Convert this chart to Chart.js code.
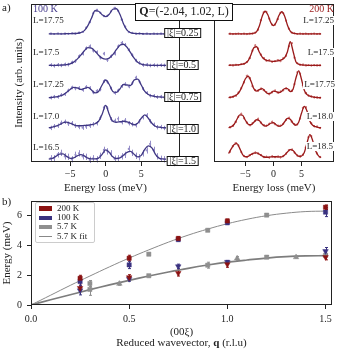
<!DOCTYPE html>
<html>
<head>
<meta charset="utf-8">
<script src="https://cdn.jsdelivr.net/npm/chart.js@4.4.0/dist/chart.umd.min.js"></script>
<style>
  html, body { margin: 0; padding: 0; background: #fff; }
  #wrap { position: relative; width: 338px; height: 350px; overflow: hidden; font-family: 'Liberation Serif', serif; color: #222; }
  canvas { position: absolute; }
  .t { position: absolute; white-space: nowrap; line-height: 1; }
  .box { position: absolute; background: #fff; border: 1.6px solid #111; box-sizing: border-box; text-align: center; white-space: nowrap; }
  .xi { height: 10px; line-height: 7px; font-size: 10px; padding: 0 2px; transform: translateX(-50%); left: 182.8px; }
  .lab { font-size: 9px; background: #fff; padding: 0 1px; }
  .leg { position: absolute; left: 35px; top: 201.5px; width: 60px; height: 41px; border: 1px solid #ccc; border-radius: 2px; background: rgba(255,255,255,0.85); box-sizing: border-box; }
  .leg .row { position: absolute; left: 0; height: 9px; width: 100%; }
  .leg .sw { position: absolute; left: 2.5px; top: 2.3px; width: 13.5px; height: 4.5px; }
  .leg .tx { position: absolute; left: 21px; top: 0; font-size: 9px; line-height: 9px; }
</style>
</head>
<body>
<div id="wrap">
  <canvas id="left" width="184" height="196" style="left:0;top:0;width:184px;height:196px"></canvas>
  <canvas id="right" width="156" height="196" style="left:182px;top:0;width:156px;height:196px"></canvas>
  <canvas id="disp" width="338" height="160" style="left:0;top:190px;width:338px;height:160px"></canvas>

  <div class="t" style="left:2px;top:2px;font-size:11px">a)</div>
  <div class="t" style="left:33px;top:3.5px;font-size:10px;color:#43388a">100 K</div>
  <div class="t" style="right:4px;top:3.5px;font-size:10px;color:#9a1a1a">200 K</div>

  <div class="t lab" style="left:32px;top:16px">L=17.75</div>
  <div class="t lab" style="left:32px;top:48px">L=17.5</div>
  <div class="t lab" style="left:32px;top:80px">L=17.25</div>
  <div class="t lab" style="left:32px;top:112px">L=17.0</div>
  <div class="t lab" style="left:32px;top:143px">L=16.5</div>

  <div class="t lab" style="right:3px;top:16px">L=17.25</div>
  <div class="t lab" style="right:3px;top:48px">L=17.5</div>
  <div class="t lab" style="right:2px;top:80px">L=17.75</div>
  <div class="t lab" style="right:4px;top:111.5px">L=18.0</div>
  <div class="t lab" style="right:4px;top:142px">L=18.5</div>

  <div class="box" style="left:135px;top:3px;width:98px;height:18px;font-size:12px;line-height:15px"><b>Q</b>=(-2.04, 1.02, L)</div>
  <div class="box xi" style="top:28px">|ξ|=0.25</div>
  <div class="box xi" style="top:60px">|ξ|=0.5</div>
  <div class="box xi" style="top:92px">|ξ|=0.75</div>
  <div class="box xi" style="top:124px">|ξ|=1.0</div>
  <div class="box xi" style="top:156px">|ξ|=1.5</div>

  <div class="t" style="left:2px;top:196px;font-size:11px">b)</div>
  <div class="leg">
    <div class="row" style="top:1.5px"><div class="sw" style="background:#8b1212"></div><div class="tx">200 K</div></div>
    <div class="row" style="top:10.8px"><div class="sw" style="background:#3a3280"></div><div class="tx">100 K</div></div>
    <div class="row" style="top:19.8px"><div class="sw" style="background:#8f8f8f"></div><div class="tx">5.7 K</div></div>
    <div class="row" style="top:29.5px"><div class="sw" style="background:#888;height:1px;top:4.2px"></div><div class="tx">5.7 K fit</div></div>
  </div>
  <div class="t" style="left:0;width:363px;text-align:center;top:325.5px;font-size:11px">(00ξ)</div>
  <div class="t" style="left:0;width:363px;text-align:center;top:337px;font-size:11px">Reduced wavevector, <b>q</b> (r.l.u)</div>
</div>

<script>
// ---- panel a : energy grid of the fitted curves and of the measured points
const ENERGY = [-8,-7.5,-7,-6.5,-6,-5.5,-5,-4.5,-4,-3.5,-3,-2.5,-2,-1.5,-1,-0.5,0,0.5,1,1.5,2,2.5,3,3.5,4,4.5,5,5.5,6,6.5,7,7.5,8,8.5];
const POINT_E = [-7.75,-7.25,-6.75,-6.25,-5.75,-5.25,-4.75,-4.25,-3.75,-3.25,-2.75,-2.25,-1.75,-1.25,-0.75,-0.25,0.25,0.75,1.25,1.75,2.25,2.75,3.25,3.75,4.25,4.75,5.25,5.75,6.25,6.75,7.25,7.75,8.25];

// 100 K fitted curves (top to bottom)
const FIT_100K_1775 = [0.3,0.3,0.3,0.3,0.3,0.4,0.5,0.6,0.8,1.5,3.5,8.5,16,23.5,23,19.5,17.5,20,25,25.5,20,10.5,4,1.5,0.7,0.5,0.4,0.3,0.3,0.3,0.3,0.3,0.3,0.3];
const FIT_100K_175  = [0.2,0.2,0.3,0.4,0.6,1,1.8,3.5,6.5,10.5,15,18,17.5,14.5,10.5,7.5,6.5,7.5,11,16,20.5,21.5,18.5,13,7.5,3.5,1.5,0.7,0.4,0.3,0.2,0.2,0.2,0.2];
const FIT_100K_1725 = [0.3,0.5,1,1.8,3,5.5,8.5,10.5,10,8.5,9.5,10.5,8,5,6.5,13,18,13.5,6.5,5.5,9,13.5,13,12.5,18,19,13,6.5,3.5,2,1.3,1,0.8,0.6];
const FIT_100K_170  = [0.5,1,2,3.5,5.5,6.2,5,3.5,2.5,2.5,2.8,3,3.5,4.5,7,14,23,14,7,6,6.5,7,6.5,5,3.5,5,10,13.5,10,5,2,1,0.6,0.4];
const FIT_100K_165  = [0.3,1,3,5.3,5.5,3,1,1.5,3.5,4.8,3.5,1.2,0.5,0.5,1.2,5,9.5,7,2.5,0.8,1.5,4,7,8,5,2.5,4,10,13.5,11.5,5,1.2,0.4,0.2];

// 100 K measured points
const PTS_100K_1775 = [0.5,0.1,0.6,0.2,0.5,0.3,0.8,0.4,1.4,2.2,6.5,12,21,24.5,21.5,18,18.5,23,26.5,23.5,14.5,7.5,2,1.3,0.4,0.7,0.2,0.5,0.1,0.4,0.3,0.5,0.2];
const PTS_100K_175  = [0.6,-0.2,0.8,0.2,1.2,1.0,3.2,4.5,9.5,12,17.5,19.5,15,13.5,8,12,5.5,9.5,12,19.5,23,21,15.5,10.5,5,2.8,0.6,0.9,0.1,0.5,0.1,0.4,0.2];
const PTS_100K_1725 = [0.2,1.2,1.0,3,3.8,7.5,10.5,9.5,10,8,11,10,5.5,7,8.5,17,16,9.5,5,7.5,12,14,11.5,15,20.5,16.5,9,5,2.2,2,0.8,1.2,0.5];
const PTS_100K_170  = [0.3,2,2.5,5.5,6.5,4.5,5,2.5,1.2,0.5,1.5,2.5,4,5,10.5,21,20,9,7.5,9.5,6,8,5,4,3,7,11,13,7,3.5,1,1.2,0.2];
const PTS_100K_165  = [1,1,5,6.5,3,2.5,0,4.5,6,3,2.5,-0.5,1,0,3.5,9.5,8,6,0.5,1,3,4.5,10.5,6.5,3.5,2,6,9,15.5,9.5,3,0.5,0];
const ERR_100K = [0.9, 1.8, 1.8, 2.2, 3.2];
const OFFSET_100K = [128.7, 97, 64.5, 34, 2.7];

// 200 K fitted curves (top to bottom)
const FIT_200K_1725 = [0.2,0.2,0.2,0.2,0.2,0.2,0.2,0.3,0.4,0.9,2.5,8.5,18,23,19.5,12,8.5,12,19,22.5,18,9,3,0.9,0.4,0.3,0.2,0.2,0.2,0.2,0.2,0.2,0.2,0.2];
const FIT_200K_175  = [0.3,0.4,0.5,0.7,1,1.5,2.5,5,11,18,19,13.5,8.5,6,5,4.5,4.3,4.5,5,6,8,14,24,14.5,4,1.5,0.8,0.5,0.3,0.3,0.3,0.3,0.3,0.3];
const FIT_200K_1775 = [0.5,1,2,3.5,7,13,19.5,22,17,9.5,7,8.5,9.5,7,4.5,5,7,6.5,5.5,7,9.5,9.5,6.5,9,20,27.5,19,8,3.5,2,1.2,0.8,0.5,0.4];
const FIT_200K_180  = [0.5,1.5,4,9,13.5,13,8,4,3.5,6,8.5,7.5,4,2.2,3,5,5.5,3.5,2,3,6.5,10,9,5,3,6,15,22,17,7,3,1.5,0.8,0.4];
const FIT_200K_185  = [5,10,14,15,10,4,1.8,2.2,4,5.5,5.7,4.3,2.5,1.3,1.3,1.6,1.8,1.8,1.6,1.7,3.5,6.5,9,8,4.5,2.3,2.5,6,16,24,18,8,3,1];

// 200 K measured points
const PTS_200K_1725 = [0.4,0,0.3,0.5,0.1,0.4,0,0.5,0.4,1.5,4.5,14,22,22.5,15.5,9.5,9.5,15,21.5,21,13.5,5.5,1.5,0.8,0.1,0.5,0.2,0.4,0,0.3,0.5,0.1,0.3];
const PTS_200K_175  = [0.5,0.2,0.8,0.6,1.5,1.8,3.5,7.5,15,20.5,17,11,7.5,5,5.5,3.8,4.5,5.5,4.5,7.5,10,19.5,22.5,8,2.5,0.8,1,0.2,0.5,0.1,0.4,0.2,0.3];
const PTS_200K_1775 = [0.8,1.2,2.5,5.5,10,16,22.5,20,12,8,7.5,9.5,8,6,4,6,7.5,5.5,6.5,8,10,8,7.5,14,26,24.5,13,5,2.5,1.8,0.8,0.7,0.3];
const PTS_200K_180  = [1,2.5,6.5,11.5,14.5,10,5.5,3,5,7.5,9.5,5.5,3,2.5,4.5,6.5,4,2.5,2.5,4.5,8.5,10.5,6.5,4,4,10,20.5,21,11,5,2,1.5,0.2];
const PTS_200K_185  = [7,12.5,15.5,13,6.5,2.5,1.5,3.5,4.5,6,5,3.5,1.5,1.8,1,2.2,1.5,2,1.2,2.5,5,8.5,9,6,3,2,4,11,21.5,22.5,12,5,1.5];
const ERR_200K = [0.7, 0.9, 1.1, 1.1, 1.1];
const OFFSET_200K = [128.7, 97, 64.3, 34, 3.5];

// ---- panel b : dispersion
const Q_FIT = [0,0.1,0.2,0.3,0.4,0.5,0.6,0.7,0.8,0.9,1.0,1.1,1.2,1.3,1.4,1.5];
const FIT_UPPER = [0,0.66,1.32,1.95,2.57,3.16,3.71,4.23,4.70,5.11,5.47,5.77,6.01,6.18,6.29,6.32];
const FIT_LOWER = [0,0.35,0.69,1.03,1.35,1.66,1.95,2.22,2.47,2.69,2.88,3.03,3.16,3.25,3.30,3.32];
const Q_MEAS = [0.25, 0.5, 0.75, 1.0, 1.5];
const E_200K_UP = [1.8, 3.15, 4.48, 5.66, 6.58];
const ERR_200K_UP = [0.2, 0.2, 0.12, 0.12, 0.15];
const E_100K_UP = [1.58, 2.7, 4.4, 5.53, 6.25];
const ERR_100K_UP = [0.3, 0.25, 0.1, 0.1, 0.3];
const E_200K_LO = [1.14, 1.86, 2.15, 2.74, 3.22];
const ERR_200K_LO = [0.2, 0.18, 0.2, 0.2, 0.18];
const E_100K_LO = [0.98, 1.75, 2.6, 2.9, 3.62];
const ERR_100K_LO = [0.3, 0.15, 0.15, 0.1, 0.25];
const Q_57K_SQ = [0.3, 0.3, 0.6, 0.6, 0.9, 0.9, 1.2, 1.2, 1.5];
const E_57K_SQ = [1.45, 1.05, 3.42, 1.97, 5.03, 2.68, 6.05, 3.22, 3.35];
const ERR_57K_SQ = [0.2, 0.4, 0.08, 0.08, 0.08, 0.2, 0.08, 0.1, 0.1];
const Q_57K_TRI = [0.45, 1.05, 1.35];
const E_57K_TRI = [1.43, 3.14, 3.22];
const ERR_57K_TRI = [0.1, 0.12, 0.06];

const FONT = "'Liberation Serif', serif";
const INK = '#222';
const minus = v => (v < 0 ? '\u2212' + Math.abs(v) : String(v));

// vertical error bars for datasets that carry an "errors" value or array
const errorBars = {
    id: 'errorBars',
    beforeDatasetsDraw(chart) {
        const ctx = chart.ctx;
        const ys = chart.scales.y;
        chart.data.datasets.forEach((ds, i) => {
            if (ds.errors === undefined) return;
            const meta = chart.getDatasetMeta(i);
            ctx.save();
            ctx.strokeStyle = ds.errorColor;
            ctx.lineWidth = 1;
            meta.data.forEach((pt, j) => {
                const e = Array.isArray(ds.errors) ? ds.errors[j] : ds.errors;
                const v = ds.data[j].y;
                const x = Math.round(pt.x) + 0.5;
                const y1 = ys.getPixelForValue(v - e);
                const y2 = ys.getPixelForValue(v + e);
                ctx.beginPath();
                ctx.moveTo(x, y1);
                ctx.lineTo(x, y2);
                if (ds.caps) {
                    ctx.moveTo(x - ds.caps, y1); ctx.lineTo(x + ds.caps, y1);
                    ctx.moveTo(x - ds.caps, y2); ctx.lineTo(x + ds.caps, y2);
                }
                ctx.stroke();
            });
            ctx.restore();
        });
    }
};

// full box round the plot area
const frame = {
    id: 'frame',
    afterDraw(chart) {
        const a = chart.chartArea;
        const ctx = chart.ctx;
        ctx.save();
        ctx.strokeStyle = INK;
        ctx.lineWidth = 1;
        ctx.strokeRect(Math.round(a.left) + 0.5, Math.round(a.top) + 0.5,
            Math.round(a.right - a.left) - 1, Math.round(a.bottom - a.top) - 1);
        ctx.restore();
    }
};

function spectraChart(id, fits, pts, offsets, errs, lineColor, ptColor, xr, withY, pad) {
    const datasets = [];
    fits.forEach((f, k) => {
        datasets.push({
            data: ENERGY.map((e, i) => ({ x: e, y: offsets[k] + f[i] })),
            showLine: true,
            borderColor: lineColor,
            borderWidth: 1.3,
            pointRadius: 0,
            cubicInterpolationMode: 'monotone'
        });
    });
    pts.forEach((p, k) => {
        datasets.push({
            data: POINT_E.map((e, j) => ({ x: e, y: offsets[k] + p[j] })),
            pointRadius: 1.1,
            pointBackgroundColor: ptColor,
            pointBorderWidth: 0,
            errors: errs[k],
            errorColor: ptColor
        });
    });

    return new Chart(document.getElementById(id), {
        type: 'scatter',
        data: { datasets },
        plugins: [errorBars, frame],
        options: {
            responsive: false,
            animation: false,
            layout: { padding: pad },
            plugins: { legend: { display: false }, tooltip: { enabled: false } },
            scales: {
                x: {
                    type: 'linear', min: xr[0], max: xr[1],
                    afterBuildTicks: s => { s.ticks = [-5, 0, 5].map(v => ({ value: v })); },
                    afterFit: s => { s.height = 34; },
                    grid: { drawOnChartArea: false, drawTicks: true, tickLength: 4, color: INK },
                    border: { display: false },
                    ticks: { font: { family: FONT, size: 10 }, color: INK, padding: 2, maxRotation: 0, callback: minus },
                    title: { display: true, text: 'Energy loss (meV)', color: INK,
                             font: { family: FONT, size: 11 }, padding: { top: 0, bottom: 1 } }
                },
                y: {
                    type: 'linear', min: 0, max: 159, display: withY,
                    afterFit: s => { s.width = 31; },
                    grid: { display: false },
                    border: { display: false },
                    ticks: { display: false },
                    title: { display: true, text: 'Intensity (arb. units)', color: INK,
                             font: { family: FONT, size: 11 }, padding: { top: 13, bottom: 0 } }
                }
            }
        }
    });
}

spectraChart('left',
    [FIT_100K_1775, FIT_100K_175, FIT_100K_1725, FIT_100K_170, FIT_100K_165],
    [PTS_100K_1775, PTS_100K_175, PTS_100K_1725, PTS_100K_170, PTS_100K_165],
    OFFSET_100K, ERR_100K, '#3f3783', '#958dc8', [-10.5, 10.45], true,
    { left: 0, top: 3, right: 1, bottom: 0 });

spectraChart('right',
    [FIT_200K_1725, FIT_200K_175, FIT_200K_1775, FIT_200K_180, FIT_200K_185],
    [PTS_200K_1725, PTS_200K_175, PTS_200K_1775, PTS_200K_180, PTS_200K_185],
    OFFSET_200K, ERR_200K, '#9a1a1a', '#cf7b7b', [-10.6, 10.8], false,
    { left: 1, top: 3, right: 1, bottom: 0 });

// ---- panel b
const RED = '#8b1212', BLUE = '#3a3280', GREY = '#8f8f8f';
const pairs = (qs, es) => qs.map((q, i) => ({ x: q, y: es[i] }));
const marks = (qs, es, errs, color, style, rot) => ({
    data: pairs(qs, es),
    pointStyle: style,
    rotation: rot || 0,
    pointRadius: style === 'rect' ? 3 : 3.2,
    pointBackgroundColor: color,
    pointBorderColor: color,
    pointBorderWidth: 0.5,
    errors: errs,
    errorColor: color,
    caps: 1.5
});

new Chart(document.getElementById('disp'), {
    type: 'scatter',
    data: {
        datasets: [
            marks(Q_MEAS, E_200K_UP, ERR_200K_UP, RED, 'rect'),
            marks(Q_MEAS, E_200K_LO, ERR_200K_LO, RED, 'triangle', 180),
            marks(Q_MEAS, E_100K_UP, ERR_100K_UP, BLUE, 'rect'),
            marks(Q_MEAS, E_100K_LO, ERR_100K_LO, BLUE, 'triangle', 180),
            marks(Q_57K_SQ, E_57K_SQ, ERR_57K_SQ, GREY, 'rect'),
            marks(Q_57K_TRI, E_57K_TRI, ERR_57K_TRI, GREY, 'triangle'),
            { data: pairs(Q_FIT, FIT_UPPER), showLine: true, borderColor: '#8a8a8a', borderWidth: 1, pointRadius: 0, tension: 0.4 },
            { data: pairs(Q_FIT, FIT_LOWER), showLine: true, borderColor: '#7d7d7d', borderWidth: 1.7, pointRadius: 0, tension: 0.4 }
        ]
    },
    plugins: [errorBars, frame],
    options: {
        responsive: false,
        animation: false,
        layout: { padding: { left: 0, top: 8, right: 6, bottom: 0 } },
        plugins: { legend: { display: false }, tooltip: { enabled: false } },
        scales: {
            x: {
                type: 'linear', min: 0, max: 1.533,
                afterBuildTicks: s => { s.ticks = [0, 0.5, 1, 1.5].map(v => ({ value: v })); },
                afterFit: s => { s.height = 45; },
                grid: { drawOnChartArea: false, drawTicks: true, tickLength: 4, color: INK },
                border: { display: false },
                ticks: { font: { family: FONT, size: 10 }, color: INK, padding: 4, maxRotation: 0, callback: v => v.toFixed(1) }
            },
            y: {
                type: 'linear', min: 0, max: 7,
                afterBuildTicks: s => { s.ticks = [0, 2, 4, 6].map(v => ({ value: v })); },
                afterFit: s => { s.width = 31; },
                grid: { drawOnChartArea: false, drawTicks: true, tickLength: 4, color: INK },
                border: { display: false },
                ticks: { font: { family: FONT, size: 10 }, color: INK, padding: 5 },
                title: { display: true, text: 'Energy (meV)', color: INK,
                         font: { family: FONT, size: 11 }, padding: { top: 1, bottom: 0 } }
            }
        }
    }
});
</script>
</body>
</html>
